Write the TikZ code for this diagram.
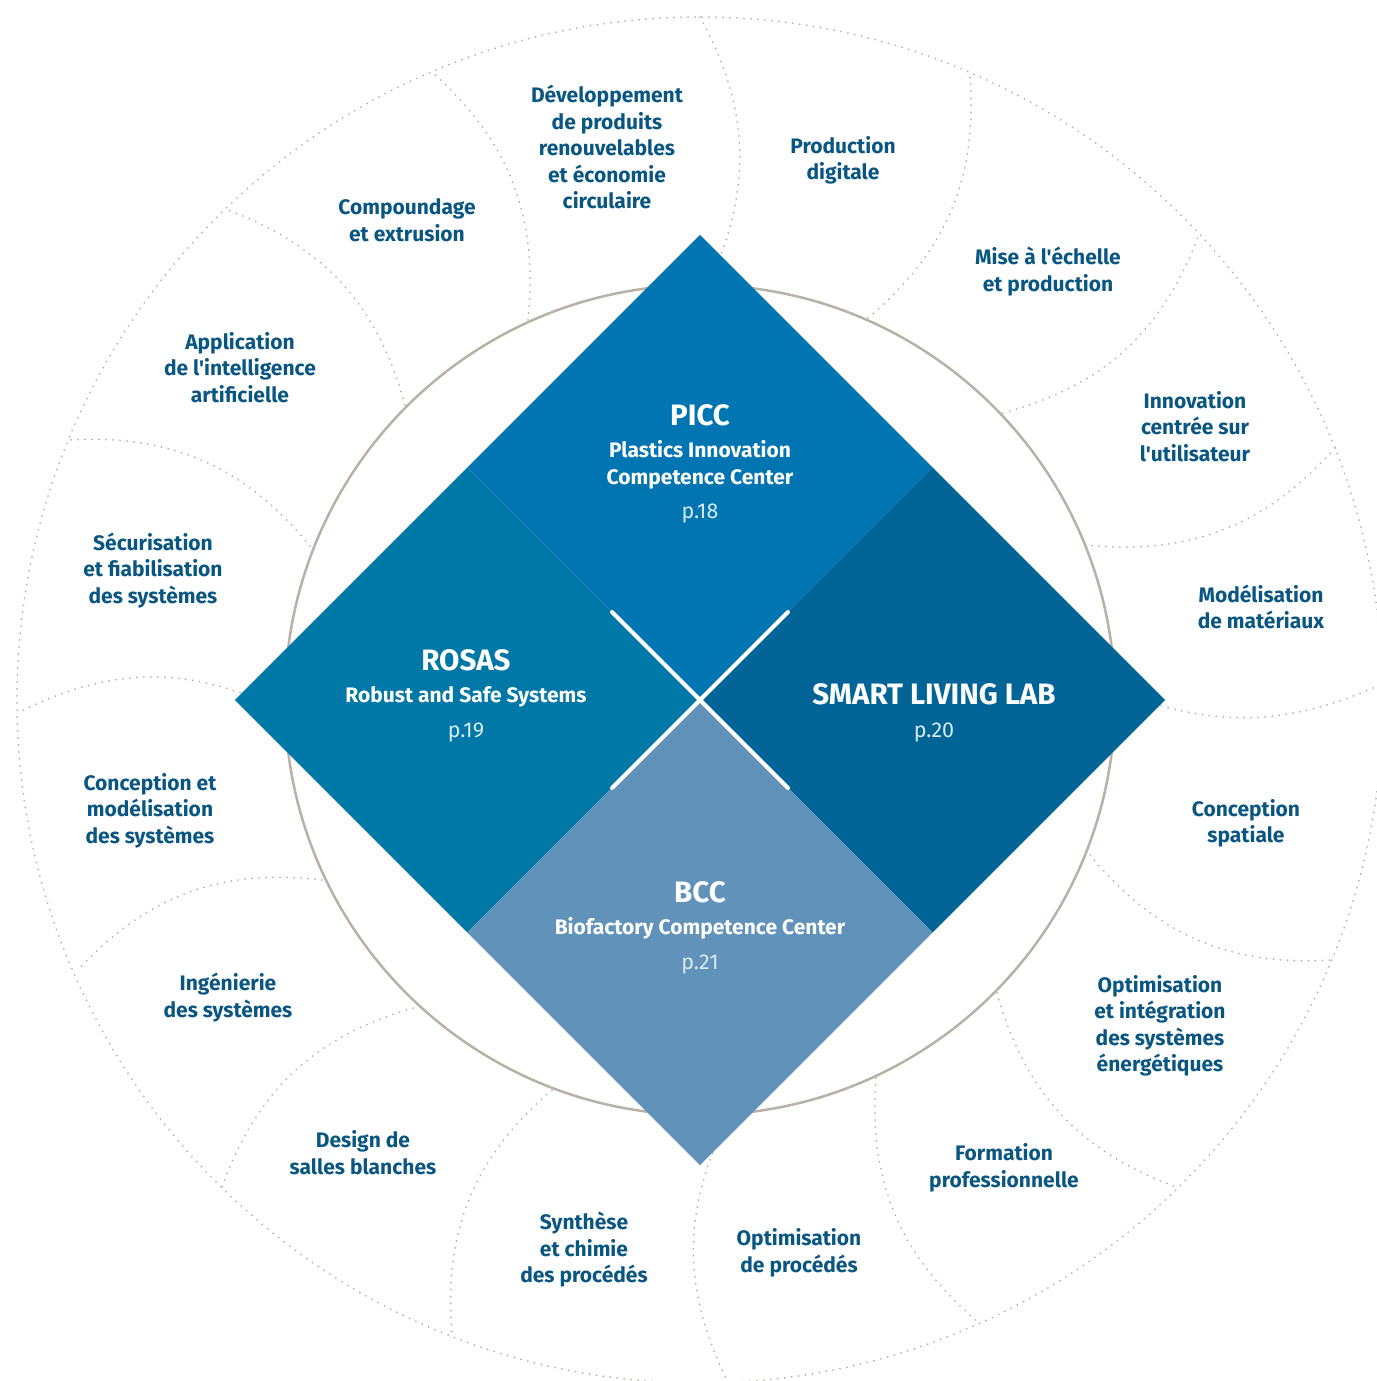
\documentclass[tikz,border=0pt]{standalone}
\usepackage{fontspec}
\setmainfont{Fira Sans}[Ligatures=TeXOff]
\definecolor{txt}{RGB}{10,86,130}
\definecolor{picc}{RGB}{0,117,177}
\definecolor{rosas}{RGB}{0,120,167}
\definecolor{sll}{RGB}{0,101,150}
\definecolor{bcc}{RGB}{97,147,186}
\definecolor{ring}{RGB}{184,177,168}
\begin{document}
\begin{tikzpicture}[x=1pt,y=1pt,
  lbl/.style={font=\fontsize{21}{26.5}\selectfont\bfseries, text=txt, align=center, inner sep=0pt},
  ttl/.style={font=\fontsize{29.5}{30}\selectfont\bfseries, text=white, inner sep=0pt},
  sub/.style={font=\fontsize{21}{27}\selectfont\bfseries, text=white, align=center, inner sep=0pt},
  pg/.style={font=\fontsize{21.5}{22}\selectfont, text=white!85!picc, inner sep=0pt},
  petal/.style={draw=ring, line width=2pt, line cap=round, dash pattern=on 0pt off 7pt},
]
\useasboundingbox (-700,-681) rectangle (676,700);
% outer dotted ring
\draw[petal] (0,0) circle (683);
% petal boundaries: inner end -> outer end
\foreach \n/\ix/\iy/\ox/\oy/\b in {
  1/8/415/0/683/27,
  2/-172/380/-268/628/27,
  3/-295/295/-472/490/27,
  4/-390/154/-632/260/27,
  5/-415/-12/-682/-13/27,
  6/-378/-180/-622/-270/27,
  7/-287/-308/-478/-487/27,
  8/-148/-390/-248/-633/27,
  9/30/-415/28/-682/27,
  10/176/-378/278/-622/27,
  11/297/-293/476/-487/27,
  12/390/-155/632/-260/27,
  13/415/10/682/16/23,
  14/385/155/635/252/27,
  15/303/287/498/463/27,
  16/168/382/270/625/27}{
  \coordinate (in\n) at (\ix,\iy);
  \coordinate (out\n) at (\ox,\oy);
  \draw[petal] (in\n) to[bend right=\b] (out\n);
}
% inner solid ring
\draw[ring, line width=2.5pt] (0,0) circle (415);
% four squares
\fill[picc] (0,465) -- (232.5,232.5) -- (0,0) -- (-232.5,232.5) -- cycle;
\fill[rosas] (-232.5,232.5) -- (0,0) -- (-232.5,-232.5) -- (-465,0) -- cycle;
\fill[sll] (232.5,232.5) -- (465,0) -- (232.5,-232.5) -- (0,0) -- cycle;
\fill[bcc] (0,0) -- (232.5,-232.5) -- (0,-465) -- (-232.5,-232.5) -- cycle;
% white cross
\coordinate (c) at (0,0);
\coordinate (xa) at (-88,88);
\coordinate (xb) at (88,88);
\coordinate (xc) at (88,-88);
\coordinate (xd) at (-88,-88);
\draw[white, line width=4pt, line cap=round] (xa) -- (c) -- (xc);
\draw[white, line width=4pt, line cap=round] (xb) -- (c) -- (xd);
% square texts
\node[ttl] (piccT) at (0,285) {PICC};
\node[sub] (piccS) at (0,235) {Plastics Innovation\\Competence Center};
\node[pg] (piccP) at (0,187) {p.18};
\node[ttl] (rosT) at (-234,40) {ROSAS};
\node[sub] (rosS) at (-234,3) {Robust and Safe Systems};
\node[pg] (rosP) at (-234,-32) {p.19};
\node[ttl] (sllT) at (234,6) {SMART LIVING LAB};
\node[pg] (sllP) at (234,-32) {p.20};
\node[ttl] (bccT) at (0,-192) {BCC};
\node[sub] (bccS) at (0,-228) {Biofactory Competence Center};
\node[pg] (bccP) at (0,-264) {p.21};
% outer labels
\node[lbl] (l1) at (-93,553) {Développement\\de produits\\renouvelables\\et économie\\circulaire};
\node[lbl] (l2) at (143,539.5) {Production\\digitale};
\node[lbl] (l3) at (348,428.5) {Mise à l'échelle\\et production};
\node[lbl] (l4) at (495,273.5) {Innovation\\centrée sur\\l'utilisateur};
\node[lbl] (l5) at (561,93) {Modélisation\\de matériaux};
\node[lbl] (l6) at (546,-123.5) {Conception\\spatiale};
\node[lbl] (l7) at (460,-326) {Optimisation\\et intégration\\des systèmes\\énergétiques};
\node[lbl] (l8) at (304,-468) {Formation\\professionnelle};
\node[lbl] (l9) at (99,-553) {Optimisation\\de procédés};
\node[lbl] (l10) at (-116,-550) {Synthèse\\et chimie\\des procédés};
\node[lbl] (l11) at (-337,-452.5) {Design de\\salles blanches};
\node[lbl] (l12) at (-472,-297.5) {Ingénierie\\des systèmes};
\node[lbl] (l13) at (-550,-110.5) {Conception et\\modélisation\\des systèmes};
\node[lbl] (l14) at (-547,129.5) {Sécurisation\\et fiabilisation\\des systèmes};
\node[lbl] (l15) at (-460,332.5) {Application\\de l'intelligence\\artificielle};
\node[lbl] (l16) at (-293,480) {Compoundage\\et extrusion};
\end{tikzpicture}
\end{document}
